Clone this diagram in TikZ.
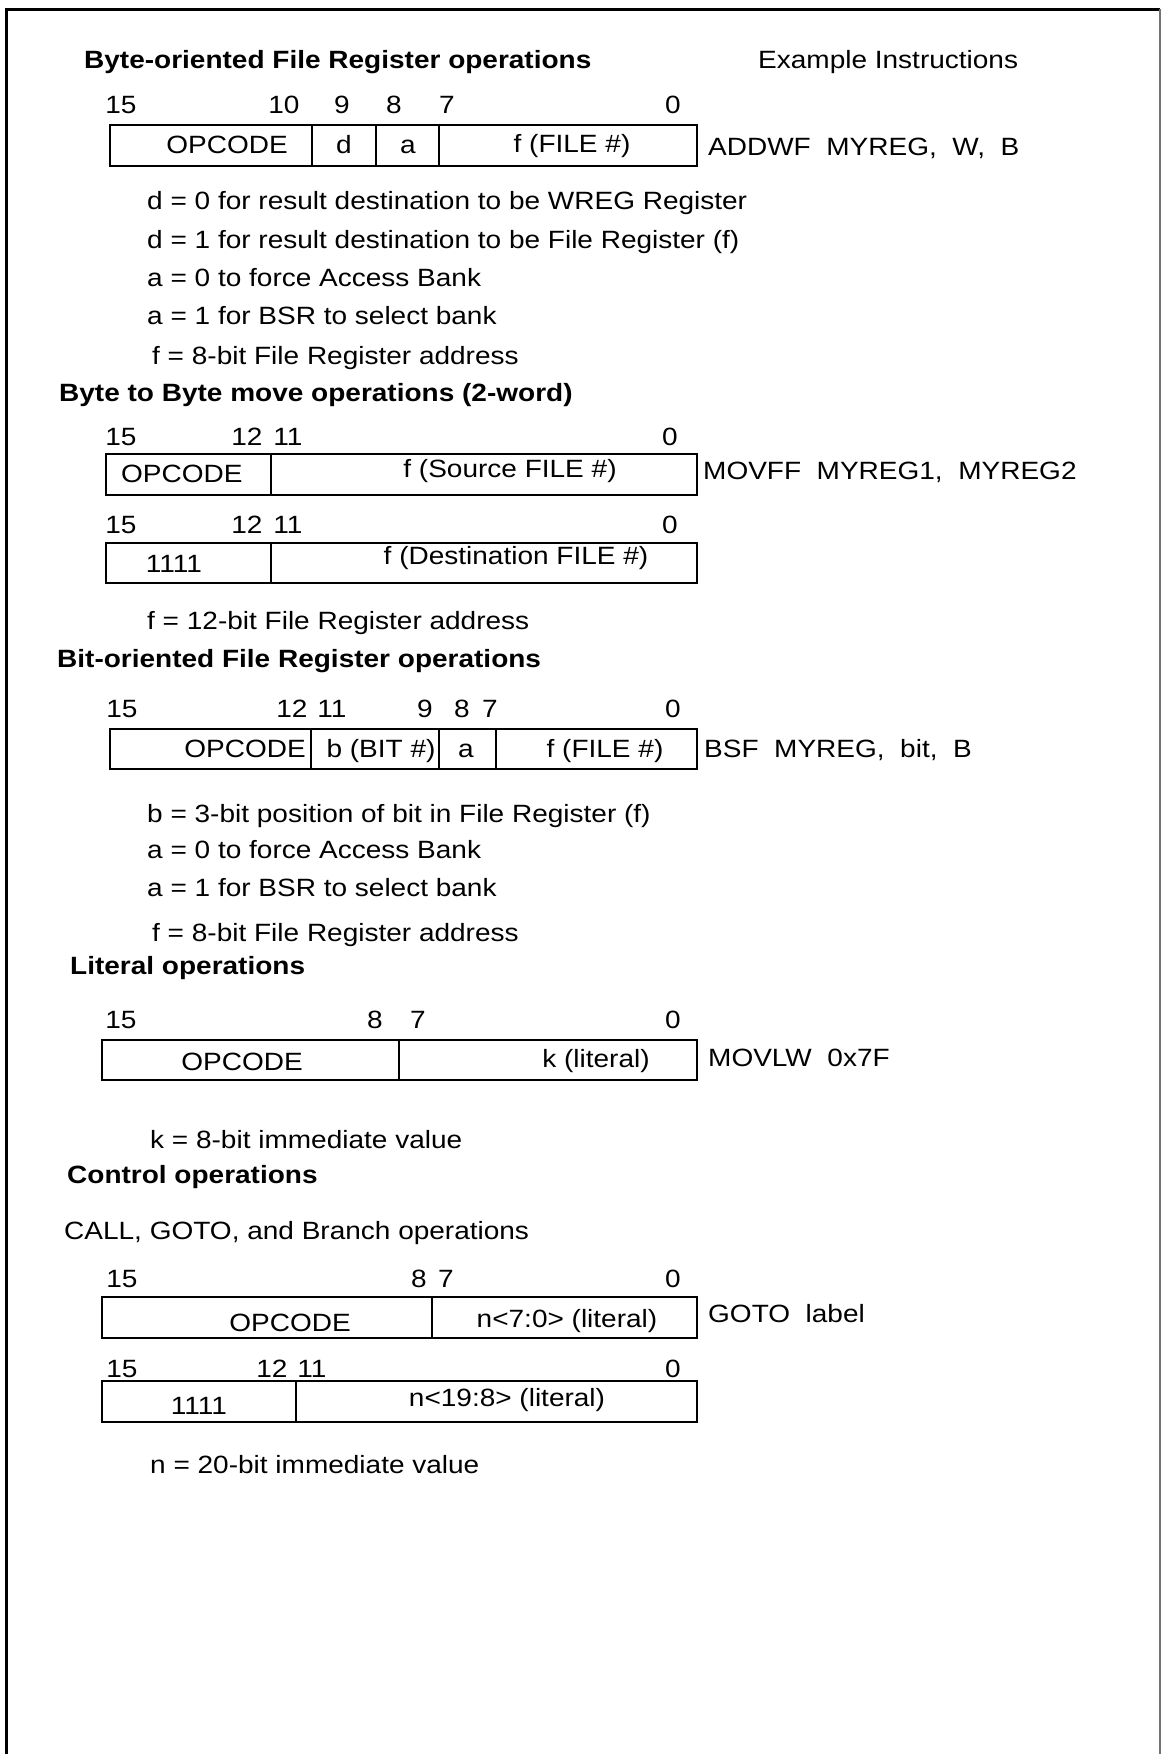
\documentclass[tikz,border=0pt]{standalone}
\usepackage{fontspec}
\setmainfont{Liberation Sans}[FakeStretch=1.12]
\begin{document}
\begin{tikzpicture}[x=1pt, y=-1pt,
  txt/.style={anchor=base west, inner sep=0pt, font=\fontsize{25}{30}\selectfont},
  ttl/.style={anchor=base west, inner sep=0pt, font=\fontsize{25}{30}\selectfont\bfseries},
  bitno/.style={anchor=base, inner sep=0pt, font=\fontsize{25}{30}\selectfont},
  word/.style={line width=1.2pt},
  shade/.style={line width=2.6pt}]
\useasboundingbox (0,0) rectangle (1162,1754);
% frame
\draw[line width=3pt] (6,1754) -- (6,9) -- (1160,9);
\draw[line width=1.2pt, black!55] (1160,9) -- (1160,1754);

% byte-oriented
\node[ttl] (t1) at (84,68) {Byte-oriented File Register operations};
\node[txt] (ex) at (758,68) {Example Instructions};
\node[bitno] (a15) at (121,113) {15};
\node[bitno] (a10) at (284,113) {10};
\node[bitno] (a9) at (342,113) {9};
\node[bitno] (a8) at (394,113) {8};
\node[bitno] (a7) at (447,113) {7};
\node[bitno] (a0) at (673,113) {0};
\draw[word] (110,125) rectangle (697,166);
\draw[shade] (110,166) -- (697,166) -- (697,125);
\draw[word] (312,125) -- (312,166) (376,125) -- (376,166) (439,125) -- (439,166);
\node[bitno] (aop) at (227,153) {OPCODE};
\node[bitno] (ad) at (344,153) {d};
\node[bitno] (aa) at (408,153) {a};
\node[bitno] (af) at (572,152) {f (FILE \#)};
\node[txt] (addwf) at (708,155) {ADDWF\ \ MYREG,\ \ W,\ \ B};
\node[txt] (d0) at (147,209) {d = 0 for result destination to be WREG Register};
\node[txt] (d1) at (147,248) {d = 1 for result destination to be File Register (f)};
\node[txt] (a0a) at (147,286) {a = 0 to force Access Bank};
\node[txt] (a1a) at (147,324) {a = 1 for BSR to select bank};
\node[txt] (fa) at (152,364) {f = 8-bit File Register address};

% byte to byte move
\node[ttl] (t2) at (59,401) {Byte to Byte move operations (2-word)};
\node[bitno] (b15) at (121,445) {15};
\node[bitno] (b12) at (247,445) {12};
\node[bitno] (b11) at (288,445) {11};
\node[bitno] (b0) at (670,445) {0};
\draw[word] (106,454) rectangle (697,495);
\draw[shade] (106,495) -- (697,495);
\draw[word] (271,454) -- (271,495);
\node[txt] (bop) at (121,482) {OPCODE};
\node[bitno] (bsrc) at (510,477) {f (Source FILE \#)};
\node[txt] (movff) at (703,479) {MOVFF\ \ MYREG1,\ \ MYREG2};
\node[bitno] (c15) at (121,533) {15};
\node[bitno] (c12) at (247,533) {12};
\node[bitno] (c11) at (288,533) {11};
\node[bitno] (c0) at (670,533) {0};
\draw[word] (106,543) rectangle (697,583);
\draw[shade] (106,583) -- (697,583);
\draw[word] (271,543) -- (271,583);
\node[bitno] (c1111) at (174,572) {1111};
\node[bitno] (cdst) at (516,564) {f (Destination FILE \#)};
\node[txt] (fb) at (147,629) {f = 12-bit File Register address};

% bit-oriented
\node[ttl] (t3) at (57,667) {Bit-oriented File Register operations};
\node[bitno] (d15) at (122,717) {15};
\node[bitno] (d12) at (292,717) {12};
\node[bitno] (d11) at (332,717) {11};
\node[bitno] (d9) at (425,717) {9};
\node[bitno] (d8) at (462,717) {8};
\node[bitno] (d7) at (490,717) {7};
\node[bitno] (dz) at (673,717) {0};
\draw[word] (110,729) rectangle (697,769);
\draw[shade] (110,769) -- (697,769) -- (697,729);
\draw[word] (311,729) -- (311,769) (439,729) -- (439,769) (496,729) -- (496,769);
\node[anchor=base east, inner sep=0pt, font=\fontsize{25}{30}\selectfont] (dop) at (306,757) {OPCODE};
\node[bitno] (dbit) at (381,757) {b (BIT \#)};
\node[bitno] (da) at (466,757) {a};
\node[bitno] (df) at (605,757) {f (FILE \#)};
\node[txt] (bsf) at (704,757) {BSF\ \ MYREG,\ \ bit,\ \ B};
\node[txt] (bb) at (147,822) {b = 3-bit position of bit in File Register (f)};
\node[txt] (a0b) at (147,858) {a = 0 to force Access Bank};
\node[txt] (a1b) at (147,896) {a = 1 for BSR to select bank};
\node[txt] (fc) at (152,941) {f = 8-bit File Register address};

% literal
\node[ttl] (t4) at (70,974) {Literal operations};
\node[bitno] (e15) at (121,1028) {15};
\node[bitno] (e8) at (375,1028) {8};
\node[bitno] (e7) at (418,1028) {7};
\node[bitno] (e0) at (673,1028) {0};
\draw[word] (102,1040) rectangle (697,1080);
\draw[shade] (102,1080) -- (697,1080);
\draw[word] (399,1040) -- (399,1080);
\node[bitno] (eop) at (242,1070) {OPCODE};
\node[bitno] (ek) at (596,1067) {k (literal)};
\node[txt] (movlw) at (708,1066) {MOVLW\ \ 0x7F};
\node[txt] (kv) at (150,1148) {k = 8-bit immediate value};

% control
\node[ttl] (t5) at (67,1183) {Control operations};
\node[txt] (call) at (64,1239) {CALL, GOTO, and Branch operations};
\node[bitno] (g15) at (122,1287) {15};
\node[bitno] (g8) at (419,1287) {8};
\node[bitno] (g7) at (446,1287) {7};
\node[bitno] (g0) at (673,1287) {0};
\draw[word] (102,1297) rectangle (697,1338);
\draw[shade] (102,1338) -- (697,1338);
\draw[word] (432,1297) -- (432,1338);
\node[bitno] (gop) at (290,1331) {OPCODE};
\node[bitno] (glo) at (567,1327) {n<7:0> (literal)};
\node[txt] (goto) at (708,1322) {GOTO\ \ label};
\node[bitno] (h15) at (122,1377) {15};
\node[bitno] (h12) at (272,1377) {12};
\node[bitno] (h11) at (312,1377) {11};
\node[bitno] (h0) at (673,1377) {0};
\draw[word] (102,1381) rectangle (697,1422);
\draw[shade] (102,1422) -- (697,1422);
\draw[word] (296,1381) -- (296,1422);
\node[bitno] (h1111) at (199,1414) {1111};
\node[bitno] (hhi) at (507,1406) {n<19:8> (literal)};
\node[txt] (nv) at (150,1473) {n = 20-bit immediate value};
\end{tikzpicture}
\end{document}
